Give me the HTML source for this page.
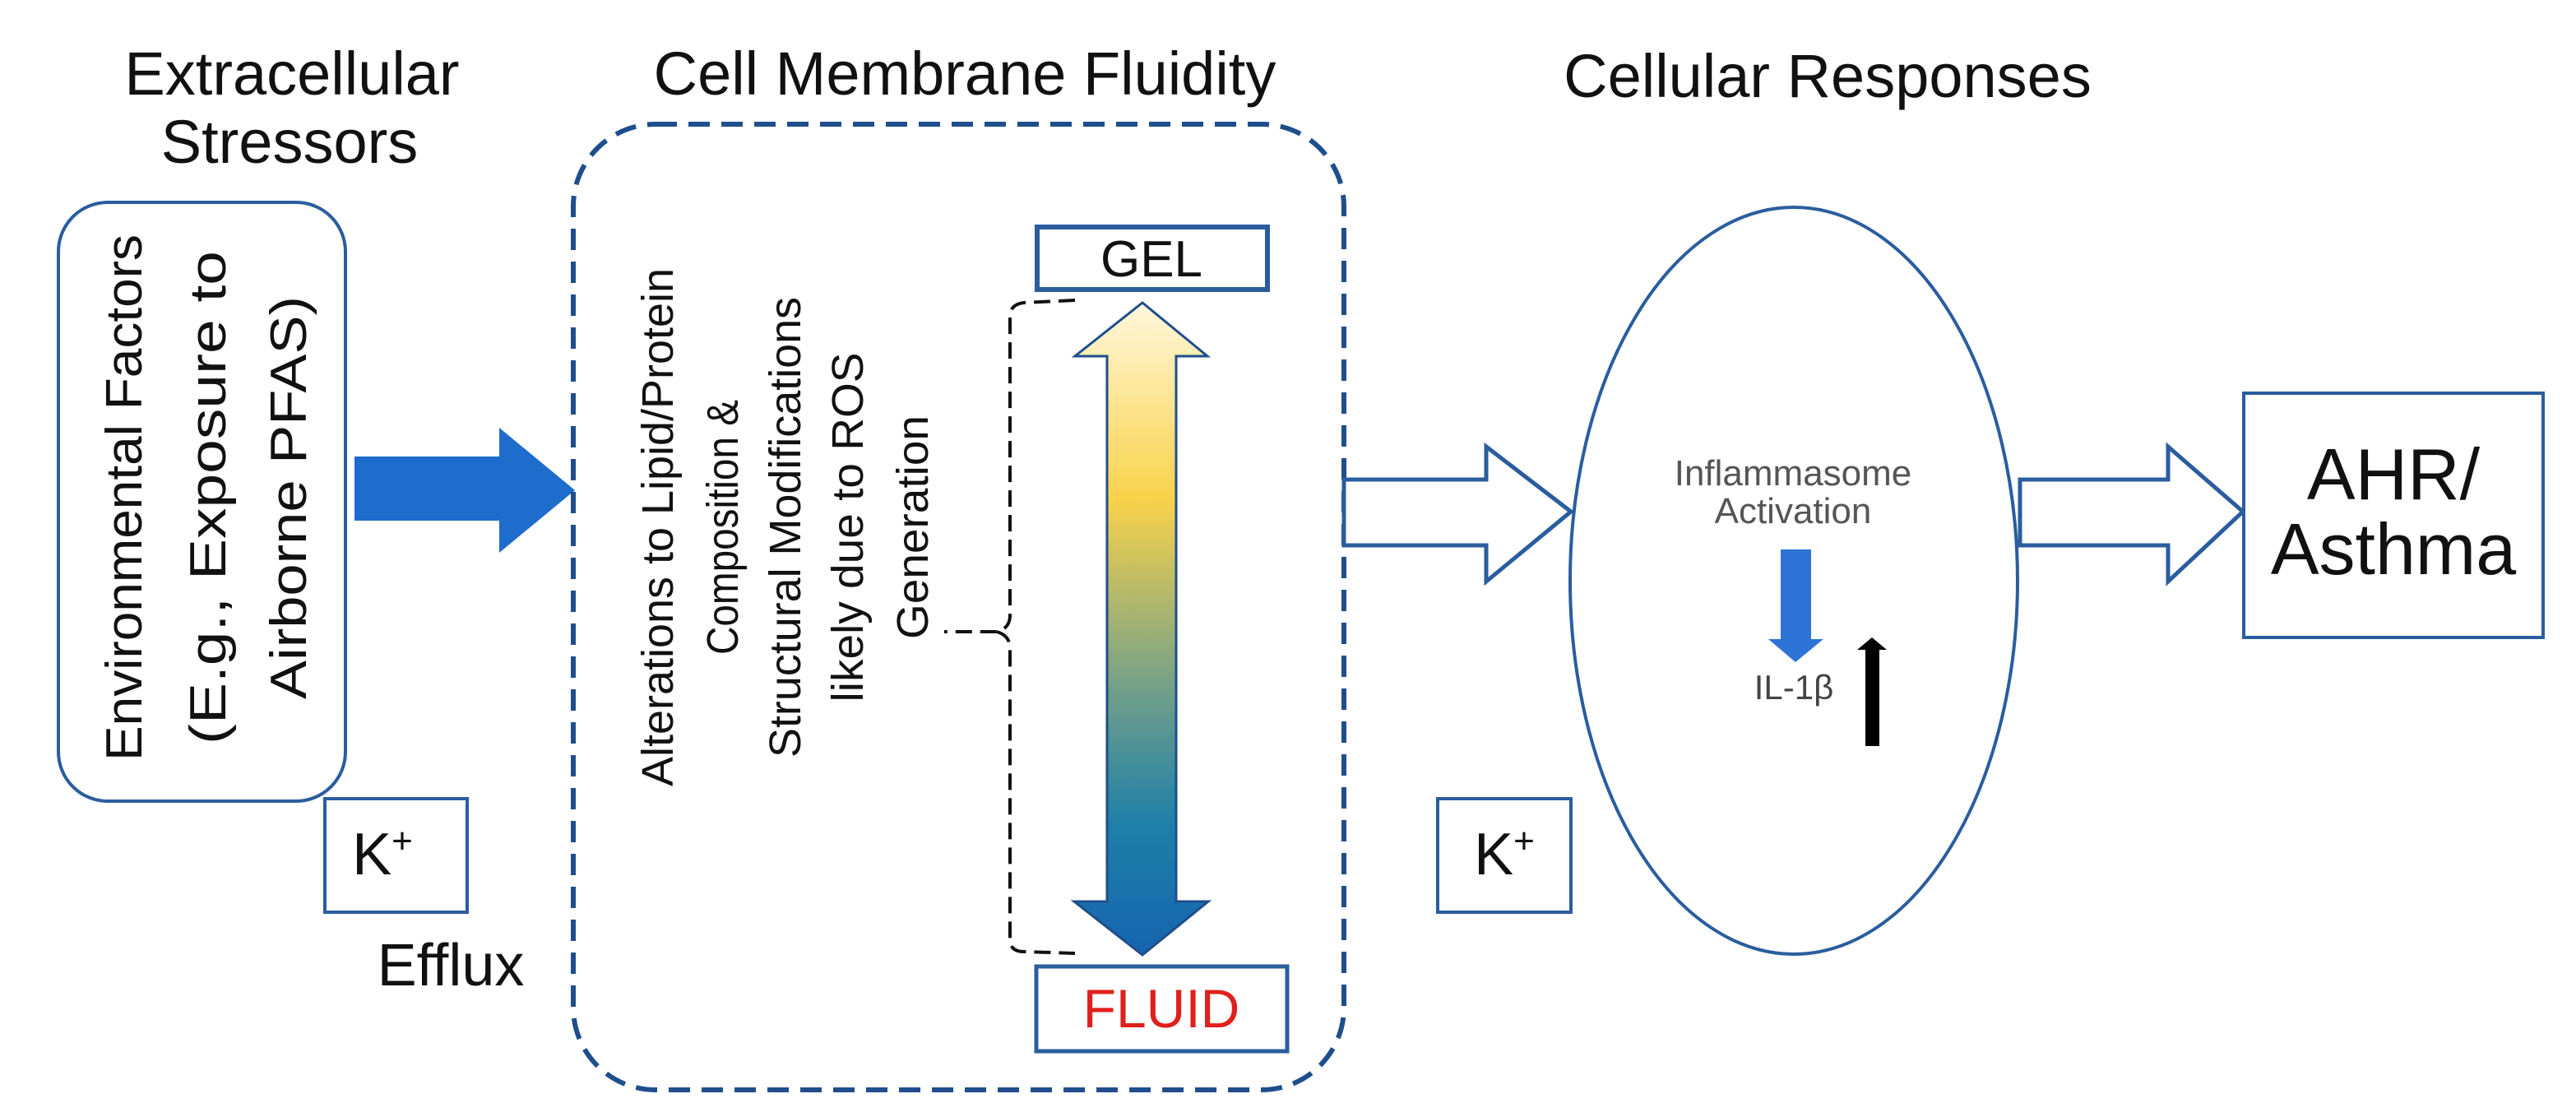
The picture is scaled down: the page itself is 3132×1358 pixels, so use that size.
<!DOCTYPE html>
<html><head><meta charset="utf-8"><style>html,body{margin:0;padding:0;background:#fff}svg{display:block}</style></head>
<body>
<svg width="3132" height="1358" viewBox="0 0 3132 1358" xmlns="http://www.w3.org/2000/svg" font-family="'Liberation Sans', sans-serif">
<defs>
<linearGradient id="g" x1="0" y1="0" x2="0" y2="1">
<stop offset="0" stop-color="#fff7dc"/>
<stop offset="0.3" stop-color="#f9d24a"/>
<stop offset="0.6" stop-color="#6f9e8a"/>
<stop offset="0.8" stop-color="#1e80a8"/>
<stop offset="1" stop-color="#1664b0"/>
</linearGradient>
</defs>
<text x="355" y="115" font-size="74" text-anchor="middle" fill="#111">Extracellular</text>
<text x="352" y="198" font-size="74" text-anchor="middle" fill="#111">Stressors</text>
<text x="1173" y="115" font-size="74" text-anchor="middle" fill="#111">Cell Membrane Fluidity</text>
<text x="2222" y="118" font-size="74" text-anchor="middle" fill="#111">Cellular Responses</text>

<rect x="71" y="246" width="349" height="728" rx="60" fill="none" stroke="#2a5d9e" stroke-width="4"/>
<g font-size="62" fill="#111" text-anchor="middle">
<text transform="translate(172,605) rotate(-90)" textLength="640" lengthAdjust="spacingAndGlyphs">Environmental Factors</text>
<text transform="translate(274,605) rotate(-90)" textLength="600" lengthAdjust="spacingAndGlyphs">(E.g., Exposure to</text>
<text transform="translate(372,605) rotate(-90)" textLength="490" lengthAdjust="spacingAndGlyphs">Airborne PFAS)</text>
</g>

<polygon points="431,555 607,555 607,520 699,596 607,672 607,633 431,633" fill="#1e6ccc"/>

<rect x="395" y="971" width="173" height="138" fill="#fff" stroke="#2a5d9e" stroke-width="4"/>
<text x="465" y="1063" font-size="72" text-anchor="middle" fill="#111">K<tspan font-size="44" dy="-26">+</tspan></text>
<text x="548" y="1198" font-size="72" text-anchor="middle" fill="#111">Efflux</text>

<rect x="697" y="151" width="937" height="1174" rx="100" fill="none" stroke="#1f4e8c" stroke-width="6" stroke-dasharray="26 14"/>

<g font-size="54" fill="#111" text-anchor="middle">
<text transform="translate(818,641) rotate(-90)" textLength="630" lengthAdjust="spacingAndGlyphs">Alterations to Lipid/Protein</text>
<text transform="translate(897,641) rotate(-90)" textLength="310" lengthAdjust="spacingAndGlyphs">Composition &amp;</text>
<text transform="translate(973,641) rotate(-90)" textLength="560" lengthAdjust="spacingAndGlyphs">Structural Modifications</text>
<text transform="translate(1049,641) rotate(-90)" textLength="425" lengthAdjust="spacingAndGlyphs">likely due to ROS</text>
<text transform="translate(1128,641) rotate(-90)" textLength="272" lengthAdjust="spacingAndGlyphs">Generation</text>
</g>

<path d="M1307,365 L1245,368 Q1228,370 1228,385 L1228,748 Q1228,764 1212,768 L1148,768 M1212,768 Q1228,773 1228,788 L1228,1142 Q1228,1157 1245,1157 L1307,1159" fill="none" stroke="#111" stroke-width="4" stroke-dasharray="20 10"/>

<rect x="1261" y="276" width="280" height="76" fill="#fff" stroke="#2a5d9e" stroke-width="6"/>
<text x="1400" y="336" font-size="62" text-anchor="middle" fill="#111">GEL</text>

<polygon points="1389,368 1468,433 1430,433 1430,1096 1469,1096 1389,1161 1306,1096 1346,1096 1346,433 1307,433" fill="url(#g)" stroke="#1f4e8c" stroke-width="3"/>

<rect x="1260" y="1175" width="305" height="103" fill="#fff" stroke="#2a5d9e" stroke-width="5"/>
<text x="1412" y="1249" font-size="66" text-anchor="middle" fill="#e0201c">FLUID</text>

<polygon points="1634,583 1807,583 1807,543 1910,622 1807,707 1807,663 1634,663" fill="#fff" stroke="#2a5d9e" stroke-width="5"/>

<ellipse cx="2181" cy="706" rx="272" ry="454" fill="none" stroke="#2a5d9e" stroke-width="4"/>
<text x="2180" y="590" font-size="44" text-anchor="middle" fill="#555">Inflammasome</text>
<text x="2180" y="636" font-size="44" text-anchor="middle" fill="#555">Activation</text>
<polygon points="2165,668 2202,668 2202,777 2217,777 2183,805 2150,777 2165,777" fill="#2d74d6"/>
<text x="2181" y="850" font-size="42" text-anchor="middle" fill="#444">IL-1β</text>
<polygon points="2268,907 2285,907 2285,790 2294,790 2276,775 2258,790 2268,790" fill="#000"/>

<rect x="1748" y="971" width="162" height="138" fill="#fff" stroke="#2a5d9e" stroke-width="4"/>
<text x="1829" y="1063" font-size="72" text-anchor="middle" fill="#111">K<tspan font-size="44" dy="-26">+</tspan></text>

<polygon points="2456,583 2636,583 2636,543 2727,622 2636,707 2636,663 2456,663" fill="#fff" stroke="#2a5d9e" stroke-width="5"/>

<rect x="2728" y="478" width="364" height="297" fill="#fff" stroke="#2a5d9e" stroke-width="4"/>
<text x="2910" y="607" font-size="88" text-anchor="middle" fill="#111">AHR/</text>
<text x="2910" y="698" font-size="88" text-anchor="middle" fill="#111">Asthma</text>
</svg>
</body></html>
